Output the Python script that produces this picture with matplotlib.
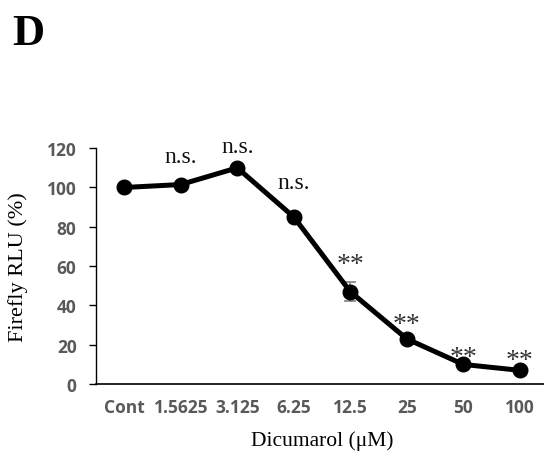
import matplotlib
matplotlib.use("Agg")
import matplotlib.pyplot as plt

categories = ["Cont", "1.5625", "3.125", "6.25", "12.5", "25", "50", "100"]
values = [100, 101.5, 110, 85, 47, 23, 10, 7]
errors = [0.8, 1.0, 1.2, 1.0, 4.8, 1.2, 0.8, 0.6]
annotations = ["", "n.s.", "n.s.", "n.s.", "**", "**", "**", "**"]
annot_offset = [0, 11.4, 8.0, 14.6, 10.4, 3.9, 0.1, 1.6]
yticks = [0, 20, 40, 60, 80, 100, 120]

fig = plt.figure(figsize=(5.44, 4.52), dpi=100)
ax = fig.add_axes([0.1765, 0.148, 0.831, 0.522])

x = list(range(len(categories)))
ax.errorbar(x, values, yerr=errors, color="black", lw=3.6, marker="o",
            markersize=10.5, ecolor="#808080", elinewidth=1.2, capsize=4, capthick=1.2,
            zorder=3)

for xi, v, a, o in zip(x, values, annotations, annot_offset):
    if a:
        ax.text(xi, v + o, a, ha="center", va="baseline",
                fontsize=20 if a == "**" else 17, family="Liberation Serif",
                color="#111111" if a == "n.s." else "#333333")

ax.set_xlim(-0.5, 7.5)
ax.set_ylim(0, 120)
ax.set_yticks(yticks)
ax.set_xticks(x)
ax.set_xticklabels(categories)
for lab in ax.get_xticklabels() + ax.get_yticklabels():
    lab.set_fontfamily("Open Sans")
    lab.set_fontweight("bold")
    lab.set_color("#595959")
    lab.set_fontsize(12.5)
ax.tick_params(axis="x", length=0, pad=10)
ax.tick_params(axis="y", length=5, width=1, direction="out", pad=9)
for s in ["top", "right"]:
    ax.spines[s].set_visible(False)
ax.spines["left"].set_linewidth(1)
ax.spines["bottom"].set_linewidth(1.2)

ax.set_ylabel("Firefly RLU (%)", family="Liberation Serif", fontsize=16, labelpad=13.5)
ax.set_xlabel("Dicumarol (\u03bcM)", family="Liberation Serif", fontsize=15.5, labelpad=10)

fig.text(0.022, 0.9, "D", family="Liberation Serif", fontweight="bold", fontsize=32,
         ha="left", va="baseline")

fig.savefig("out.png", dpi=100)
